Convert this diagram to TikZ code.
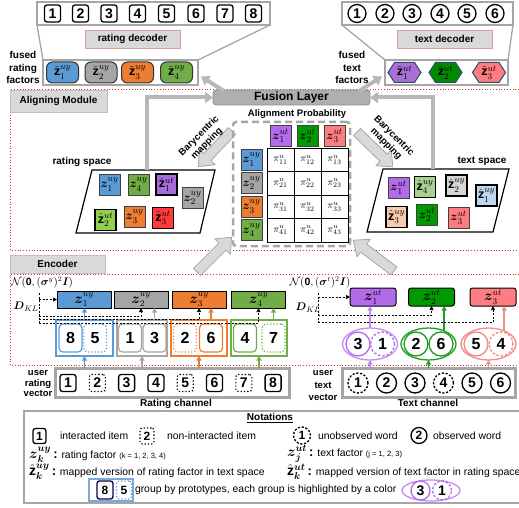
\documentclass[tikz,border=0pt]{standalone}
\usepackage{amsmath}
\usepackage{fontspec}
\setmainfont{Liberation Sans}
\usetikzlibrary{arrows.meta,shapes.geometric,calc}
\definecolor{cblue}{HTML}{5B9BD5}
\definecolor{cgray}{HTML}{A5A5A5}
\definecolor{corange}{HTML}{ED7D31}
\definecolor{cgreen}{HTML}{70AD47}
\definecolor{cpurple}{HTML}{B36BEB}
\definecolor{ctgreen}{HTML}{009900}
\definecolor{cpink}{HTML}{FF7C80}
\definecolor{hpurple}{HTML}{A46CD9}
\definecolor{hlgreen}{HTML}{92D050}
\definecolor{hred}{HTML}{FF3B3B}
\definecolor{tlgreen}{HTML}{A9D18E}
\definecolor{tlgray}{HTML}{D6D6D6}
\definecolor{tlblue}{HTML}{BDD7EE}
\definecolor{tpeach}{HTML}{F8CBAD}
\definecolor{epurple}{HTML}{C58AF2}
\definecolor{egreen}{HTML}{1E9E1E}
\definecolor{epink}{HTML}{F28A8A}
\definecolor{panelgray}{HTML}{A6A6A6}
\definecolor{lblgray}{HTML}{D9D9D9}
\definecolor{lblborder}{HTML}{BFBFBF}
\definecolor{decborder}{HTML}{D9A0A0}
\definecolor{fusfill}{HTML}{AFAFAF}
\definecolor{fusdraw}{HTML}{8C8C8C}
\definecolor{hexborder}{HTML}{2E4A6B}
\definecolor{reddot}{HTML}{E03030}
\definecolor{sqborder}{HTML}{404040}
\definecolor{ngroupblue}{HTML}{7FA8D8}
\definecolor{hxpurple}{HTML}{A96FD6}
\definecolor{hxgreen}{HTML}{008A00}
\newcommand\bzv[2]{$\boldsymbol{z}^{#1}_{#2}$}
\newcommand\hzv[2]{$\hat{\mathbf{z}}^{#1}_{#2}$}
\newcommand\tzv[2]{$\tilde{\mathbf{z}}^{#1}_{#2}$}
\newcommand\hexnode[5]{%
  \path[hexb=#4] (#2-16.5,#3) -- (#2-10,#3-10) -- (#2+10,#3-10) -- (#2+16.5,#3) -- (#2+10,#3+10) -- (#2-10,#3+10) -- cycle;
  \node[font=\fontsize{12.5}{12.5}\selectfont] (#1) at (#2,#3) {#5};}
\newcommand\blkarr[4]{\begin{scope}[shift={(#1,#2)},rotate=#3]
  \path[blockar] (0,-5) -- (#4-13,-5) -- (#4-13,-11) -- (#4,0) -- (#4-13,11) -- (#4-13,5) -- (0,5) -- cycle;
  \end{scope}}
\tikzset{
 every node/.style={inner sep=0pt, outer sep=0pt},
 lab/.style={font=\bfseries\fontsize{10}{12.5}\selectfont, align=center},
 panel/.style={draw=panelgray, line width=2.5pt, fill=white},
 numbx/.style={draw, line width=1.3pt, rounded corners=2.5pt, minimum width=16pt, minimum height=17pt, font=\bfseries\fontsize{14}{14}\selectfont},
 numbxd/.style={numbx, dotted, line width=1.1pt},
 numci/.style={draw, circle, line width=1.3pt, minimum size=18pt, font=\bfseries\fontsize{14}{14}\selectfont},
 numcid/.style={numci, dash pattern=on 2.2pt off 1.6pt},
 declab/.style={draw=decborder, line width=0.6pt, fill=lblgray, font=\bfseries\fontsize{10}{12}\selectfont, minimum width=95pt, minimum height=18pt},
 modlab/.style={draw=lblborder, line width=0.6pt, fill=lblgray, font=\bfseries\fontsize{10}{12}\selectfont},
 fusr/.style={draw=black!80, line width=1pt, fill=#1, rounded corners=6pt, minimum width=32pt, minimum height=21pt, font=\fontsize{12.5}{12.5}\selectfont},
 hexb/.style={draw=hexborder, line width=1pt, fill=#1},
 fsq/.style={draw=sqborder, line width=0.8pt, fill=#1, minimum size=21pt, font=\fontsize{12.5}{12.5}\selectfont},
 hsq/.style={fsq=#1, draw=black, line width=1.2pt},
 pcell/.style={draw, line width=0.8pt, minimum width=27pt, minimum height=23.5pt, font=\fontsize{10}{10}\selectfont},
 encr/.style={draw, line width=1pt, fill=#1, minimum width=54pt, minimum height=17pt, font=\fontsize{13.5}{13.5}\selectfont},
 enct/.style={encr=#1, rounded corners=2.5pt, minimum width=46pt, minimum height=18pt},
 gbox/.style={draw=#1, line width=1.5pt, minimum height=36pt},
 gin/.style={draw=#1, line width=1.2pt, rounded corners=4pt, minimum width=23pt, minimum height=28pt, font=\bfseries\fontsize{16}{16}\selectfont},
 gind/.style={gin=#1, dotted},
 gell/.style={draw=#1, ellipse, line width=1.3pt, minimum width=55pt, minimum height=32pt},
 gci/.style={draw=#1, circle, line width=1.3pt, minimum size=24pt, font=\bfseries\fontsize{16}{16}\selectfont},
 gcid/.style={gci=#1, dash pattern=on 2.5pt off 1.8pt},
 carrow/.style={draw=#1, line width=1.5pt, -{Triangle[length=4.5pt,width=5pt]}},
 klline/.style={draw=black, line width=0.7pt, dash pattern=on 2pt off 1.5pt},
 klarr/.style={klline, -{Triangle[length=4pt,width=4pt]}},
 fusearr/.style={draw=black!28, line width=4pt, -{Triangle[length=8pt,width=11pt]}},
 blockar/.style={draw=black!35, fill=black!15, line width=0.8pt, line join=round},
 redline/.style={draw=reddot, line width=0.8pt, dotted},
 notetxt/.style={font=\fontsize{10.4}{12}\selectfont},
}
\begin{document}
\begin{tikzpicture}[x=1pt,y=-1pt]
\useasboundingbox (0,0) rectangle (519,508);
% module frames
\draw[redline] (519,89) -- (10,89) -- (10,250) -- (519,250);
\draw[redline] (519,274) -- (10,274) -- (10,365) -- (519,365);
% ---------- rating decoder
\node[panel, minimum width=233pt, minimum height=23pt] (rdec) at (153.5,13.5) {};
\node[panel, minimum width=155pt, minimum height=25pt] (rfb) at (120.5,72.5) {};
\draw[panelgray, line width=1.3pt] (rdec.south west) -- (rfb.north west) (rdec.south east) -- (rfb.north east);
\foreach \i/\x in {1/52.5,2/80.5,3/109,4/137.5,5/166.5,6/196,7/225,8/253.5}
  \node[numbx] (rd\i) at (\x,13.5) {\i};
\node[declab] (rdl) at (132.5,39) {rating decoder};
\node[lab] (frf) at (23,67.5) {fused\\rating\\factors};
\node[fusr=cblue] (fr1) at (62.5,72.5) {\tzv{uy}{1}};
\node[fusr=cgray] (fr2) at (101,72.5) {\tzv{uy}{2}};
\node[fusr=corange] (fr3) at (137.5,72.5) {\tzv{uy}{3}};
\node[fusr=cgreen] (fr4) at (176.5,72.5) {\tzv{uy}{4}};
% ---------- text decoder
\node[panel, minimum width=171pt, minimum height=23pt] (tdec) at (427.5,13.5) {};
\node[panel, minimum width=123pt, minimum height=25pt] (tfb) at (446.5,72.5) {};
\draw[panelgray, line width=1.3pt] (tdec.south west) -- (tfb.north west) (tdec.south east) -- (tfb.north east);
\foreach \i/\x in {1/357,2/385,3/412,4/440,5/467,6/495}
  \node[numci] (td\i) at (\x,13.5) {\i};
\node[declab] (tdl) at (444.5,39) {text decoder};
\node[lab] (ftf) at (352,67.5) {fused\\text\\factors};
\hexnode{ft1}{404.5}{72.5}{hxpurple}{\tzv{ut}{1}}
\hexnode{ft2}{445.5}{72.5}{hxgreen}{\tzv{ut}{2}}
\hexnode{ft3}{489}{72.5}{cpink}{\tzv{ut}{3}}
% ---------- aligning module
\node[modlab, minimum width=97pt, minimum height=22pt] (aml) at (58.5,101) {Aligning Module};
\node[draw=fusdraw, fill=fusfill, line width=0.8pt, rounded corners=3pt, minimum width=157pt, minimum height=15pt, font=\bfseries\fontsize{12}{12}\selectfont] (fus) at (291.5,97.5) {Fusion Layer};
\draw[fusearr] ($(fus.north west)+(11,1)$) -- ($(rfb.east)+(3,4)$);
\draw[fusearr] ($(fus.north east)+(-11,1)$) -- ($(tfb.west)+(-3,4)$);
% rating space
\node[lab] (rsl) at (82,162) {rating space};
\draw[line width=1.2pt] (92,170) -- (215,170) -- (200,233) -- (76,233) -- cycle;
\coordinate (rstop) at (147,170);
\node[fsq=cblue] (rz1) at (109.5,184.5) {\bzv{uy}{1}};
\node[fsq=cgreen] (rz4) at (138.5,184.5) {\bzv{uy}{4}};
\node[hsq=hpurple] (rh1) at (166.5,184.5) {\hzv{ut}{1}};
\node[fsq=cgray] (rz2) at (192.5,198) {\bzv{uy}{2}};
\node[hsq=hlgreen] (rh2) at (105.5,220) {\hzv{ut}{2}};
\node[fsq=corange] (rz3) at (134.5,216.5) {\bzv{uy}{3}};
\node[hsq=hred] (rh3) at (163,218) {\hzv{ut}{3}};
% text space
\node[lab] (tsl) at (482,161) {text space};
\draw[line width=1.2pt] (383,169) -- (509,169) -- (493,232) -- (367,232) -- cycle;
\coordinate (tstop) at (433,169);
\node[fsq=cpurple] (tz1) at (398.5,187.5) {\bzv{ut}{1}};
\node[hsq=tlgreen] (th4) at (425,187) {\hzv{uy}{4}};
\node[hsq=tlgray] (th2) at (456.5,185.5) {\hzv{uy}{2}};
\node[hsq=tlblue] (th1) at (486.5,195.5) {\hzv{uy}{1}};
\node[hsq=tpeach] (th3) at (396.5,217) {\hzv{uy}{3}};
\node[fsq=ctgreen] (tz2) at (427,215) {\bzv{ut}{2}};
\node[fsq=cpink] (tz3) at (458.5,217.5) {\bzv{ut}{3}};
\draw[fusearr] (rstop) |- (fus.west);
\draw[fusearr] (tstop) |- (fus.east);
% block arrows
\blkarr{232}{131}{226.6}{49}
\blkarr{357}{132}{-44.2}{50}
\blkarr{197}{272}{45}{49}
\blkarr{394}{271}{142.9}{51}
\node[lab, rotate=45, font=\bfseries\fontsize{9.5}{11}\selectfont] (bcl) at (203,140) {Barycentric\\mapping};
\node[lab, rotate=-45, font=\bfseries\fontsize{9.5}{11}\selectfont] (bcr) at (390,140) {Barycentric\\mapping};
% alignment probability
\node[lab, font=\bfseries\fontsize{9.5}{11}\selectfont] (apl) at (297,114) {Alignment Probability};
\node[draw=panelgray, line width=2.5pt, dash pattern=on 7pt off 4pt, rounded corners=3pt, minimum width=117pt, minimum height=124pt] (apb) at (291.5,184) {};
\node[fsq=cpurple] (ca1) at (280.5,136) {\bzv{ut}{1}};
\node[fsq=ctgreen] (ca2) at (307.5,136) {\bzv{ut}{2}};
\node[fsq=cpink] (ca3) at (334.5,136) {\bzv{ut}{3}};
\node[fsq=cblue] (ra1) at (251.5,159.75) {\bzv{uy}{1}};
\node[fsq=cgray] (ra2) at (251.5,183.25) {\bzv{uy}{2}};
\node[fsq=corange] (ra3) at (251.5,206.75) {\bzv{uy}{3}};
\node[fsq=cgreen] (ra4) at (251.5,230.25) {\bzv{uy}{4}};
\foreach \r/\y in {1/159.75,2/183.25,3/206.75,4/230.25}{
  \foreach \c/\x in {1/280.5,2/307.5,3/334.5}{
    \node[pcell] (m\r\c) at (\x,\y) {$\pi^{u}_{\r\c}$};
  }}
% ---------- encoder
\node[modlab, minimum width=95pt, minimum height=18pt] (encl) at (57.5,264) {Encoder};
\node[font=\fontsize{10.5}{11}\selectfont] (nr) at (42,283) {$\mathcal{N}(\mathbf{0},(\boldsymbol{\sigma}^{y})^{2}\boldsymbol{I})$};
\node[font=\fontsize{11}{11}\selectfont] (dr) at (26,307) {$\boldsymbol{D}_{KL}$};
\node[font=\fontsize{10.5}{11}\selectfont] (nt) at (320,283) {$\mathcal{N}(\mathbf{0},(\boldsymbol{\sigma}^{t})^{2}\boldsymbol{I})$};
\node[font=\fontsize{11}{11}\selectfont] (dt) at (308,308) {$\boldsymbol{D}_{KL}$};
\node[encr=cblue] (zr1) at (84,299.5) {\bzv{uy}{1}};
\node[encr=cgray] (zr2) at (141,299.5) {\bzv{uy}{2}};
\node[encr=corange] (zr3) at (199,299.5) {\bzv{uy}{3}};
\node[encr=cgreen] (zr4) at (258.5,299.5) {\bzv{uy}{4}};
\node[enct=cpurple] (zt1) at (373,297) {\bzv{ut}{1}};
\node[enct=ctgreen] (zt2) at (431.5,297) {\bzv{ut}{2}};
\node[enct=cpink] (zt3) at (493,297) {\bzv{ut}{3}};
% rating groups
\node[gbox=cblue, minimum width=57pt] (g1) at (84.5,338) {};
\node[gin=cblue] (b8) at (70.5,338) {8};
\node[gind=cblue] (b5) at (95,338) {5};
\node[gbox=cgray, minimum width=50pt] (g2) at (142,338) {};
\node[gin=cgray] (b1) at (130,338) {1};
\node[gin=cgray] (b3) at (154.5,338) {3};
\node[gbox=corange, minimum width=56pt] (g3) at (199,338) {};
\node[gind=corange] (b2) at (185,338) {2};
\node[gin=corange] (b6) at (211,338) {6};
\node[gbox=cgreen, minimum width=56pt] (g4) at (259,338) {};
\node[gin=cgreen] (b4) at (245,338) {4};
\node[gind=cgreen] (b7) at (273.5,338) {7};
% text groups
\node[gell=epurple] (e1) at (370,344) {};
\node[gci=cpurple] (c3) at (358,344) {3};
\node[gcid=cpurple] (c1) at (382.5,344) {1};
\node[gell=egreen] (e2) at (428.5,344) {};
\node[gci=egreen] (c2) at (416,344) {2};
\node[gci=egreen] (c6) at (441,344) {6};
\node[gell=epink] (e3) at (488.5,344) {};
\node[gci=epink] (c5) at (476,344) {5};
\node[gcid=epink] (c4) at (501,344) {4};
% vectors
\node[draw=panelgray, line width=3pt, minimum width=234pt, minimum height=29pt] (rv) at (172,382.5) {};
\node[numbx] (v1) at (68,383) {1};
\node[numbxd] (v2) at (97.3,383) {2};
\node[numbx] (v3) at (126.6,383) {3};
\node[numbx] (v4) at (155.9,383) {4};
\node[numbxd] (v5) at (185.2,383) {5};
\node[numbx] (v6) at (214.5,383) {6};
\node[numbxd] (v7) at (243.8,383) {7};
\node[numbx] (v8) at (273.1,383) {8};
\node[draw=panelgray, line width=3pt, minimum width=173pt, minimum height=29pt] (tv) at (428.5,382.5) {};
\node[numcid, minimum size=20pt] (w1) at (358,383) {1};
\node[numci, minimum size=20pt] (w2) at (386.5,383) {2};
\node[numci, minimum size=20pt] (w3) at (415,383) {3};
\node[numcid, minimum size=20pt] (w4) at (443.5,383) {4};
\node[numci, minimum size=20pt] (w5) at (472,383) {5};
\node[numci, minimum size=20pt] (w6) at (500.5,383) {6};
\node[lab, font=\bfseries\fontsize{9.5}{10.8}\selectfont] (urv) at (38,383.5) {user\\rating\\vector};
\node[lab, font=\bfseries\fontsize{9.5}{12.5}\selectfont] (utv) at (323,385.5) {user\\text\\vector};
\node[lab] (rch) at (176,404) {Rating channel};
\node[lab] (tch) at (428,403) {Text channel};
% colored arrows
\draw[carrow=cblue] (rv.north -| g1) -- (g1.south);
\draw[carrow=cgray] (rv.north -| g2) -- (g2.south);
\draw[carrow=corange] (rv.north -| g3) -- (g3.south);
\draw[carrow=cgreen] (rv.north -| g4) -- (g4.south);
\draw[carrow=epurple] (tv.north -| e1) -- (e1.south);
\draw[carrow=egreen] (tv.north -| e2) -- (e2.south);
\draw[carrow=epink] (tv.north -| e3) -- (e3.south);
\draw[carrow=cblue] (g1.north) -- (g1.north |- zr1.south);
\draw[carrow=cgray] (b3 |- g2.north) -- (b3 |- zr2.south);
\draw[carrow=corange] (b6 |- g3.north) -- (b6 |- zr3.south);
\draw[carrow=cgreen] (b7 |- g4.north) -- (b7 |- zr4.south);
\draw[carrow=epurple] (e1.north) -- (e1.north |- zt1.south);
\draw[carrow=egreen] (e2.40) -- (e2.40 |- zt2.south);
\draw[carrow=epink] (e3.40) -- (e3.40 |- zt3.south);
% KL dashed
\coordinate (klr) at (39,293);
\draw[klline] (klr) -- (39,323);
\draw[klarr] (klr |- zr1.west) -- (zr1.west);
\draw[klarr] (39,316) -| (zr2.south);
\draw[klarr] (39,319.5) -| (zr3.south);
\draw[klarr] (39,323) -| (zr4.south);
\coordinate (klt) at (318,293);
\draw[klline] (klt) -- (318,322);
\draw[klarr] (klt |- zt1.west) -- (zt1.west);
\draw[klarr] (318,315) -| (zt2.south);
\draw[klarr] (318,322) -| (zt3.south);
% ---------- notations
\node[draw=panelgray, line width=2.5pt, minimum width=497pt, minimum height=92pt] (nbox) at (272.5,457) {};
\node[lab] (ntitle) at (270,418) {\underline{Notations}};
\node[numbx, minimum width=13pt, minimum height=15pt, font=\bfseries\fontsize{12}{12}\selectfont] (n1) at (39.5,436) {1};
\node[notetxt, anchor=west] (n1t) at (60,436) {interacted item};
\node[numbxd, minimum width=14pt, minimum height=16pt, font=\bfseries\fontsize{12}{12}\selectfont] (n2) at (147,436) {2};
\node[notetxt, anchor=west] (n2t) at (167,436) {non-interacted item};
\node[numcid, minimum size=17pt, font=\bfseries\fontsize{12}{12}\selectfont] (n3) at (302,435.5) {1};
\node[notetxt, anchor=west] (n3t) at (318,436) {unobserved word};
\node[numci, minimum size=16pt, font=\bfseries\fontsize{12}{12}\selectfont] (n4) at (419,435.5) {2};
\node[notetxt, anchor=west] (n4t) at (433,436) {observed word};
\node[font=\fontsize{14}{14}\selectfont, anchor=west] (nz1) at (29,455) {$\boldsymbol{z}^{\boldsymbol{uy}}_{\boldsymbol{k}}$};
\node[notetxt, anchor=base west] (nz1t) at (nz1.base east) {{\bfseries\fontsize{13}{13}\selectfont\,:} rating factor {\fontsize{7.5}{8}\selectfont (k = 1, 2, 3, 4)}};
\node[font=\fontsize{14}{14}\selectfont, anchor=west] (nz2) at (287,454) {$\boldsymbol{z}^{\boldsymbol{ut}}_{\boldsymbol{j}}$};
\node[notetxt, anchor=base west] (nz2t) at (nz2.base east) {{\bfseries\fontsize{13}{13}\selectfont\,:} text factor {\fontsize{7.5}{8}\selectfont (j = 1, 2, 3)}};
\node[font=\fontsize{14}{14}\selectfont, anchor=west] (nh1) at (29,472) {$\hat{\mathbf{z}}^{\boldsymbol{uy}}_{\boldsymbol{k}}$};
\node[notetxt, anchor=base west] (nh1t) at (nh1.base east) {{\bfseries\fontsize{13}{13}\selectfont\,:} mapped version of rating factor in text space};
\node[font=\fontsize{14}{14}\selectfont, anchor=west] (nh2) at (287,472) {$\hat{\mathbf{z}}^{\boldsymbol{ut}}_{\boldsymbol{k}}$};
\node[notetxt, anchor=base west] (nh2t) at (nh2.base east) {{\bfseries\fontsize{13}{13}\selectfont\,:} mapped version of text factor in rating space};
\node[gbox=ngroupblue, line width=2pt, minimum width=44pt, minimum height=22pt] (ng) at (111,490) {};
\node[numbx, draw=black!70!blue, minimum width=16pt, minimum height=18pt, font=\bfseries\fontsize{12}{12}\selectfont] (ng8) at (105,490) {8};
\node[numbxd, draw=cblue, minimum width=15pt, minimum height=18pt, font=\bfseries\fontsize{12}{12}\selectfont] (ng5) at (124,490) {5};
\node[notetxt, anchor=west] (ngt) at (135,490) {group by prototypes, each group is highlighted by a color};
\node[gell=epurple, minimum width=58pt, minimum height=21pt] (nge) at (431,490.5) {};
\node[gci=cpurple, minimum size=19pt, font=\bfseries\fontsize{14}{14}\selectfont] (ng3) at (420.5,490.5) {3};
\node[gcid=cpurple, minimum size=19pt, font=\bfseries\fontsize{14}{14}\selectfont] (ng1) at (442,490.5) {1};
\end{tikzpicture}
\end{document}
